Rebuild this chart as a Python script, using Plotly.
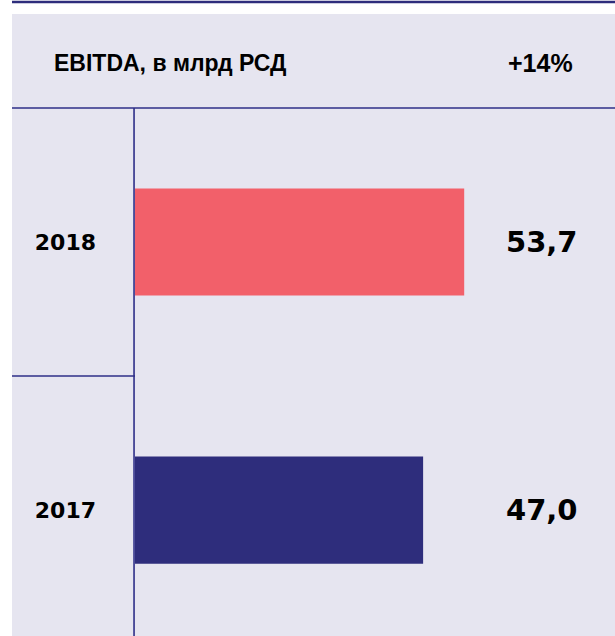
import plotly.graph_objects as go

# данные
years = ["2017", "2018"]
ebitda = [47.0, 53.7]
value_labels = ["47,0", "53,7"]
bar_colors = ["#2E2D7C", "#F2606A"]
title_text = "EBITDA, в млрд РСД"
growth_text = "+14%"

navy = "#2E2D7C"
line_col = "#2E2E88"
panel = "#E6E5F0"

fig = go.Figure(go.Bar(
    x=ebitda,
    y=years,
    orientation="h",
    width=0.4,
    marker=dict(color=bar_colors, line=dict(width=0)),
    hoverinfo="skip",
))

# подписи значений справа
for i, lbl in enumerate(value_labels):
    fig.add_annotation(x=0.927, xref="paper", y=i, yref="y", text="<b>" + lbl + "</b>",
                       showarrow=False, xanchor="right", yanchor="middle",
                       font=dict(family="DejaVu Sans", size=29, color="black"))

# заголовок
fig.add_annotation(x=-0.173, xref="paper", y=1.0852, yref="paper", text="<b>" + title_text + "</b>",
                   showarrow=False, xanchor="left", yanchor="middle",
                   font=dict(family="Liberation Sans", size=23, color="black"))
fig.add_annotation(x=0.917, xref="paper", y=1.0852, yref="paper", text="<b>" + growth_text + "</b>",
                   showarrow=False, xanchor="right", yanchor="middle",
                   font=dict(family="Liberation Sans", size=25, color="black"))

# фон и линии
fig.add_shape(type="rect", xref="paper", yref="paper", x0=-0.25625, x1=1.01, y0=-0.01, y1=1.178,
              fillcolor=panel, line=dict(width=0), layer="below")
fig.add_shape(type="line", xref="paper", yref="paper", x0=-0.25625, x1=1.01, y0=1.2008, y1=1.2008,
              line=dict(color=navy, width=2.5))
fig.add_shape(type="line", xref="paper", yref="paper", x0=-0.25625, x1=1.01, y0=1.0, y1=1.0,
              line=dict(color=line_col, width=1.3))
fig.add_shape(type="line", xref="paper", yref="y", x0=-0.25625, x1=0, y0=0.5, y1=0.5,
              line=dict(color=line_col, width=1.3))
fig.add_shape(type="line", xref="paper", yref="paper", x0=-0.002, x1=-0.002, y0=-0.01, y1=1.0,
              line=dict(color=line_col, width=1.6))

fig.update_layout(
    width=615,
    height=636,
    margin=dict(l=135, r=0, t=108, b=0),
    paper_bgcolor="white",
    plot_bgcolor="rgba(0,0,0,0)",
    showlegend=False,
    xaxis=dict(range=[0, 78.3], visible=False, fixedrange=True),
    yaxis=dict(
        type="category",
        range=[-0.47, 1.5],
        showgrid=False,
        zeroline=False,
        showline=False,
        ticks="",
        ticklabelstandoff=38,
        tickfont=dict(family="DejaVu Sans", size=22, color="black"),
        tickprefix="<b>",
        ticksuffix="</b>",
        fixedrange=True,
    ),
)

fig.write_html("out.html", config={"displayModeBar": False},
               post_script="document.body.style.margin='0';")
